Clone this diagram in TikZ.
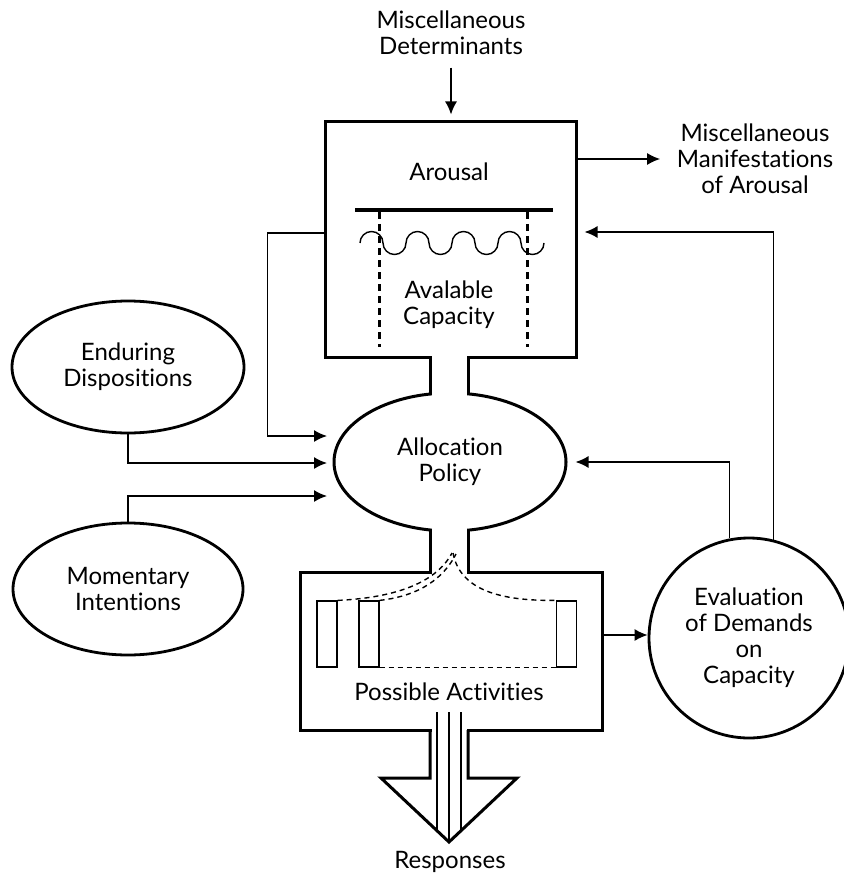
\documentclass[tikz,border=0pt]{standalone}
\usepackage{fontspec}
\setmainfont[Ligatures=NoCommon]{Lato}
\usetikzlibrary{shapes.geometric,arrows.meta,positioning}

\begin{document}
\begin{tikzpicture}[x=0.5pt,y=-0.5pt,>={Latex[length=6.5pt,width=6pt]},line width=0.75pt,font=\fontsize{12}{13}\selectfont]
\tikzstyle{box} = [rectangle, draw, line width=1.5pt, inner sep=0pt]
\tikzstyle{blob} = [ellipse, draw, line width=1.4pt, inner sep=0pt, align=center]
\tikzstyle{txt} = [align=center, inner sep=2pt]
\tikzstyle{slot} = [rectangle, draw, line width=0.6pt, minimum width=10pt, minimum height=33pt, inner sep=0pt]
\tikzstyle{dashline} = [line width=0.7pt, dash pattern=on 2.5pt off 2pt]
\tikzstyle{wall} = [line width=1.5pt]
\useasboundingbox (0,0) rectangle (843,877);

% arousal, allocation, activities
\node[box, minimum width=125.5pt, minimum height=117.5pt] (arousal) at (450.5,239.5) {};
\node[blob, line width=1.5pt, minimum width=116pt, minimum height=69pt] (alloc) at (450,462) {Allocation\\Policy};
\node[box, minimum width=151pt, minimum height=79pt] (actbox) at (451,651) {};

% necks
\fill[white] (431.5,352) rectangle (466.5,400);
\fill[white] (431.5,524) rectangle (466.5,578);
\fill[white] (431.5,725) rectangle (466.5,735);
\draw[wall] (430,357) -- (430,394.2) (468,357) -- (468,393.8);
\draw[wall] (430,529.8) -- (430,572) (468,530.2) -- (468,572);

% responses arrow
\draw[wall, line join=miter] (430,730) -- (430,778) -- (381,778) -- (449,842) -- (517,778) -- (468,778) -- (468,730);
\foreach \xx/\yy in {437/830.7, 449/842, 461/830.7}
  \draw[line width=0.6pt] (\xx,712) -- (\xx,\yy);

% inside arousal
\draw[line width=2pt] (355,210) -- (553,210);
\draw[line width=0.7pt] (360,243) \foreach \k in {1,...,4} {arc[start angle=180, end angle=0, radius=5.75pt] arc[start angle=180, end angle=360, radius=5.75pt]};
\draw[wall, dash pattern=on 3.5pt off 2.5pt] (379,212) -- (379,347) (527,212) -- (527,347);
\node[txt] (arlabel) at (449,172) {Arousal};
\node[txt] (capac) at (449,305) {Avalable\\Capacity};

% inside activities
\node[slot] (slot1) at (327,634) {};
\node[slot] (slot2) at (369,634) {};
\node[slot] (slot3) at (566.5,634) {};
\draw[dashline] (slot2.south east) -- (slot3.south west);
\draw[dashline] (slot1.north east) .. controls (390,598) and (435,585) .. (452,553);
\draw[dashline] (slot2.north east) .. controls (410,597) and (440,585) .. (456,554);
\draw[dashline] (453,553) .. controls (460,590) and (500,601) .. (slot3.north west);
\node[txt] (acts) at (449,692) {Possible Activities};
\node[txt] (resp) at (450,862) {Responses};

% outer nodes
\node[txt] (determ) at (451,33) {Miscellaneous\\Determinants};
\node[txt] (manif) at (755,159) {Miscellaneous\\Manifestations\\of Arousal};
\node[blob, minimum width=116pt, minimum height=66pt] (endur) at (128,367) {Enduring\\Dispositions};
\node[blob, minimum width=115pt, minimum height=66pt] (moment) at (128,589) {Momentary\\Intentions};
\node[circle, draw, line width=1.4pt, minimum size=100pt, inner sep=0pt, align=center] (evalu) at (749,638) {Evaluation\\of Demands\\on\\Capacity};

\coordinate (in1) at (327,436);
\coordinate (in2) at (327,463);
\coordinate (in3) at (327,496);

% connectors
\draw[->, shorten <=4pt, shorten >=3pt] (determ.south) -- (determ.south |- arousal.north);
\draw[->] (arousal.east |- manif) -- ([xshift=-6pt]manif.west);
\draw[->] ([yshift=3.25pt]arousal.west) -- ++(-56,0) |- (in1);
\draw[->] (endur.south) |- (in2);
\draw[->] (moment.north) |- (in3);
\draw[->] ([yshift=8pt]actbox.east) -- ([yshift=8pt]actbox.east -| evalu.west);
\draw[->] (evalu.101) |- ([xshift=4pt]alloc.east);
\draw[->] (evalu.76) |- ([xshift=3.5pt,yshift=3.75pt]arousal.east);
\end{tikzpicture}
\end{document}
